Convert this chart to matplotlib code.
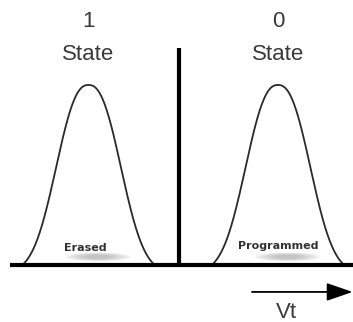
import numpy as np
import matplotlib
matplotlib.use("Agg")
import matplotlib.pyplot as plt
from matplotlib.patches import Ellipse

# Threshold-voltage distributions of the two cell states
state_digits = ["1", "0"]
state_words = ["State", "State"]
cell_labels = ["Erased", "Programmed"]
centers = [0.995, 3.0]      # Vt of each distribution peak
peak_heights = [1.0, 1.0]   # relative population at the peak
spread = [0.323, 0.323]     # distribution width
shape_power = 2.4           # flatness of the distribution
tail_cut = [0.70, 0.70]     # half-width where the tails reach zero
read_level = 1.95           # read reference voltage (divider)
divider_top = 1.205

fig = plt.figure(figsize=(3.53, 3.22), dpi=100)
ax = fig.add_axes([0, 0, 1, 1])
ax.set_xlim(0.058, 3.794)
ax.set_ylim(-0.317, 1.472)
ax.axis("off")

text_color = "#3a3a3a"
curve_color = "#2a2a2a"

label_offsets = {"Erased": (-0.03, 0.094), "Programmed": (0.0, 0.105)}

for c, h, s, cut, digit, word, lab in zip(centers, peak_heights, spread, tail_cut,
                                           state_digits, state_words, cell_labels):
    x = np.linspace(c - cut, c + cut, 400)
    f = np.exp(-0.5 * (np.abs(x - c) / s) ** shape_power)
    f0 = np.exp(-0.5 * (cut / s) ** shape_power)
    y = h * (f - f0) / (1 - f0)
    ax.plot(x, y, color=curve_color, lw=1.3, solid_capstyle="round", zorder=3)

    # soft grey shading under the label
    for k in range(8):
        ax.add_patch(Ellipse((c + 0.1, 0.045), 0.7 - 0.065 * k, 0.05 - 0.004 * k,
                             color="#8a8a8a", alpha=0.08, lw=0, zorder=1))

    ax.text(c, 1.35, digit, ha="center", va="center", fontsize=16,
            color=text_color, family="Liberation Sans")
    ax.text(c, 1.17, word, ha="center", va="center", fontsize=16,
            color=text_color, family="Liberation Sans")
    dx, ly = label_offsets[lab]
    ax.text(c + dx, ly, lab, ha="center", va="center", fontsize=8,
            fontweight="bold", color="#333333", family="DejaVu Sans", zorder=4)

# Vt axis baseline
ax.plot([0.164, 3.794], [0, 0], color="black", lw=3, solid_capstyle="butt", zorder=5)
# read reference divider
ax.plot([read_level, read_level], [0, divider_top], color="black", lw=3,
        solid_capstyle="butt", zorder=5)

# Vt direction arrow
ax.annotate("", xy=(3.79, -0.15), xytext=(2.725, -0.15),
            arrowprops=dict(arrowstyle="-|>,head_length=1.6,head_width=0.55",
                            color="black", lw=1.3, shrinkA=0, shrinkB=0))
ax.text(3.095, -0.263, "Vt", ha="center", va="center", fontsize=16,
        color=text_color, family="Liberation Sans")

fig.savefig("out.png", dpi=100)
